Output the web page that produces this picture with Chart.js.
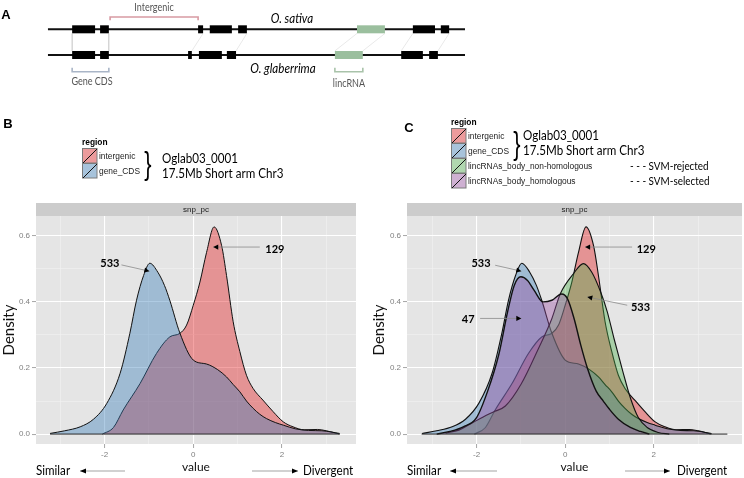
<!DOCTYPE html>
<html><head><meta charset="utf-8">
<script src="https://cdn.jsdelivr.net/npm/chart.js@4.4.1/dist/chart.umd.min.js"></script>
<style>
body{margin:0;background:#fff;width:744px;height:478px;overflow:hidden;position:relative;font-family:"Liberation Sans",Arial,sans-serif;color:#000;}
canvas{position:absolute;}
.t{position:absolute;white-space:nowrap;line-height:1;transform:translate(-50%,-50%);}
.l{position:absolute;white-space:nowrap;line-height:1;transform:translate(0,-50%);transform-origin:left center;}
.n{font-family:Lato,"Liberation Sans",Arial,sans-serif;}
.t.n{transform:translate(-50%,-50%) scaleX(0.86);}
.l.n{transform:translate(0,-50%) scaleX(0.86);}
.br{position:absolute;line-height:1;transform:translate(-50%,-50%) scaleX(0.7);font-family:"Liberation Sans",Arial,sans-serif;}
svg{position:absolute;left:0;top:0;}
</style></head><body>
<canvas id="ca" width="744" height="100" style="left:0px;top:0px"></canvas>
<canvas id="cb" width="370" height="283" style="left:0px;top:195px"></canvas>
<canvas id="cc" width="374" height="283" style="left:370px;top:195px"></canvas>
<svg id="ov" width="744" height="478"></svg>
<div id="txt"></div>
<script>
// ---------------- DATA ----------------
// Panel A: gene models (arbitrary position units along a 0-100 segment)
const chromExtent = [0, 100];
const sativaExons = [[5.8,11.3],[12.5,14.6],[36.0,37.2],[38.8,44.1],[45.6,47.7],[87.5,92.8],[94.2,96.2]];
const sativaLinc = [74.1,80.8];
const glabExons = [[5.8,11.3],[12.5,14.6],[33.6,34.5],[36.2,41.7],[42.9,45.1],[84.7,89.9],[91.4,93.5]];
const glabLinc = [68.8,75.5];
const orthologLinks = [[5.8,5.8],[14.6,14.6],[37.2,34.5],[47.7,45.1],[74.1,68.8],[80.8,75.5],[87.5,84.7],[96.2,93.5]];
const intergenicSpan = [14.9,36.0];
const cdsSpan = [5.8,14.6];
const lincSpan = [68.8,75.5];

// Panels B/C: density of snp_pc values
const regionNames = ['intergenic','gene_CDS','lincRNAs_body_non-homologous','lincRNAs_body_homologous'];
const intergenicX = [-2.05,-1.8,-1.58,-1.2,-0.83,-0.53,-0.3,-0.15,0,0.15,0.3,0.47,0.64,0.75,0.9,1.05,1.2,1.35,1.57,1.8,2.03,2.25,2.5,2.8,3.0,3.3];
const intergenicY = [0,0.02,0.073,0.153,0.244,0.294,0.305,0.33,0.39,0.46,0.55,0.627,0.57,0.48,0.34,0.25,0.178,0.138,0.103,0.068,0.037,0.022,0.013,0.014,0.01,0];
const cdsX = [-3.23,-2.9,-2.55,-2.25,-1.95,-1.65,-1.43,-1.28,-1.12,-0.98,-0.8,-0.65,-0.53,-0.3,0,0.3,0.55,0.75,0.9,1.05,1.2,1.35,1.5,1.65,1.85,2.03,2.3,2.6,2.9,3.3];
const cdsY = [0.002,0.01,0.022,0.045,0.093,0.184,0.305,0.405,0.48,0.517,0.49,0.45,0.405,0.305,0.224,0.212,0.195,0.173,0.15,0.128,0.1,0.078,0.06,0.047,0.035,0.027,0.016,0.011,0.01,0.002];
const nonHomX = [-2.7,-2.4,-2.15,-1.85,-1.62,-1.35,-1.0,-0.6,-0.3,-0.11,0.19,0.41,0.6,0.8,0.95,1.1,1.3,1.47,1.65,1.85,2.1,2.35];
const nonHomY = [0.003,0.012,0.03,0.052,0.067,0.085,0.15,0.26,0.35,0.425,0.486,0.516,0.49,0.43,0.37,0.29,0.19,0.11,0.05,0.02,0.005,0];
const homX = [-2.9,-2.6,-2.3,-2.0,-1.75,-1.5,-1.3,-1.15,-1.0,-0.85,-0.7,-0.5,-0.3,-0.08,0.05,0.2,0.35,0.5,0.7,0.86,1.0,1.2,1.47,1.7,1.9];
const homY = [0,0.008,0.022,0.05,0.13,0.24,0.37,0.45,0.476,0.465,0.435,0.40,0.405,0.424,0.41,0.35,0.27,0.2,0.13,0.1,0.075,0.045,0.02,0.008,0];
const countsB = ['533','129'];
const countsC = ['533','47','129','533'];

// ---------------- STYLE ----------------
const LATO = 'Lato,"Liberation Sans",Arial,sans-serif';
const fills = ['rgba(228,26,28,0.4)','rgba(55,126,184,0.4)','rgba(77,175,74,0.4)','rgba(152,78,163,0.4)'];
Chart.defaults.font.family = '"Liberation Sans",Arial,sans-serif';

// ---------------- PANEL A ----------------
(function(){
  const ds = [];
  const seg = (pts, color, w, order) => ds.push({data:pts, borderColor:color, borderWidth:w, pointRadius:0, fill:false, borderCapStyle:'butt', tension:0, order});
  seg([{x:chromExtent[0],y:1},{x:chromExtent[1],y:1}], '#111', 2, 3);
  seg([{x:chromExtent[0],y:0},{x:chromExtent[1],y:0}], '#111', 2, 3);
  orthologLinks.forEach(([a,b]) => seg([{x:a,y:0.84},{x:b,y:0.16}], 'rgba(0,0,0,0.09)', 1, 4));
  sativaExons.forEach(([a,b]) => seg([{x:a,y:1},{x:b,y:1}], '#000', 8, 1));
  glabExons.forEach(([a,b]) => seg([{x:a,y:0},{x:b,y:0}], '#000', 8, 1));
  seg([{x:sativaLinc[0],y:1},{x:sativaLinc[1],y:1}], '#9BBF9E', 8, 1);
  seg([{x:glabLinc[0],y:0},{x:glabLinc[1],y:0}], '#9BBF9E', 8, 1);
  const bracket = (span, yb, yt, color) => seg([{x:span[0],y:yt},{x:span[0],y:yb},{x:span[1],y:yb},{x:span[1],y:yt}], color, 1.6, 1);
  bracket(intergenicSpan, 1.48, 1.35, '#D89AA3');
  bracket(cdsSpan, -0.65, -0.5, '#A9B5C7');
  bracket(lincSpan, -0.65, -0.5, '#A9C3AA');
  new Chart(document.getElementById('ca'), {
    type:'line', data:{datasets:ds},
    options:{responsive:false, animation:false, layout:{padding:0},
      plugins:{legend:{display:false}, tooltip:{enabled:false}},
      scales:{x:{type:'linear', min:-11.5, max:166.9, display:false}, y:{type:'linear', min:-1.75, max:2.14, display:false}}}
  });
})();

// ---------------- PANELS B, C ----------------
const panelBg = {
  id:'panelBg',
  beforeDraw(chart){
    const {ctx, chartArea:a} = chart;
    ctx.save();
    ctx.fillStyle = '#E5E5E5'; ctx.fillRect(a.left, a.top, a.right-a.left, a.bottom-a.top);
    ctx.fillStyle = '#CCCCCC'; ctx.fillRect(a.left, a.top-13, a.right-a.left, 13);
    ctx.fillStyle = '#1A1A1A'; ctx.font = '8px "Liberation Sans",Arial'; ctx.textAlign='center'; ctx.textBaseline='middle';
    ctx.fillText('snp_pc', (a.left+a.right)/2, a.top-6.5);
    ctx.restore();
  }
};
function annotPlugin(items){
  return {
    id:'annot',
    afterDatasetsDraw(chart){
      const {ctx, scales:{x,y}} = chart;
      ctx.save();
      items.forEach(a => {
        const fx=x.getPixelForValue(a.from[0]), fy=y.getPixelForValue(a.from[1]);
        const tx=x.getPixelForValue(a.to[0]), ty=y.getPixelForValue(a.to[1]);
        ctx.strokeStyle='#8a8a8a'; ctx.lineWidth=0.8;
        ctx.beginPath(); ctx.moveTo(fx,fy); ctx.lineTo(tx,ty); ctx.stroke();
        const ang=Math.atan2(ty-fy,tx-fx), L=5, W=2.6;
        ctx.fillStyle='#000'; ctx.beginPath(); ctx.moveTo(tx,ty);
        ctx.lineTo(tx-L*Math.cos(ang)+W*Math.sin(ang), ty-L*Math.sin(ang)-W*Math.cos(ang));
        ctx.lineTo(tx-L*Math.cos(ang)-W*Math.sin(ang), ty-L*Math.sin(ang)+W*Math.cos(ang));
        ctx.closePath(); ctx.fill();
        ctx.font='bold 11px '+LATO; ctx.textAlign='center'; ctx.textBaseline='middle';
        ctx.fillText(a.label, x.getPixelForValue(a.tx), y.getPixelForValue(a.ty));
      });
      ctx.restore();
    }
  };
}
const majX = c => Math.abs(Math.round(c.tick.value)) % 2 === 0;
const majY = c => Math.abs(Math.round(c.tick.value*10)) % 2 === 0;
function densityChart(id, series, xRange, extent, padRight, yWidth, annots){
  const datasets = series.map(s => ({
    label:s.name, data:s.x.map((x,i)=>({x, y:s.y[i]})),
    borderColor:'#111', borderWidth:s.lw, backgroundColor:s.fill, fill:'origin',
    pointRadius:0, cubicInterpolationMode:'monotone', order:s.order
  }));
  datasets.push({label:'base', data:[{x:extent[0],y:0},{x:extent[1],y:0}], borderColor:'#222', borderWidth:1, pointRadius:0, fill:false, order:0});
  return new Chart(document.getElementById(id), {
    type:'line', data:{datasets},
    options:{responsive:false, animation:false,
      layout:{padding:{top:21, right:padRight, left:0, bottom:0}},
      plugins:{legend:{display:false}, tooltip:{enabled:false}},
      scales:{
        x:{type:'linear', min:xRange[0], max:xRange[1], afterFit(s){ s.height = 34; },
          ticks:{stepSize:1, includeBounds:false, autoSkip:false, maxRotation:0, color:'#7F7F7F', font:{size:8}, padding:2,
            callback:v => (Math.abs(Math.round(v))%2===0 ? String(Math.round(v)) : '')},
          grid:{color:c=>majX(c)?'#FFFFFF':'#F2F2F2', lineWidth:c=>majX(c)?1.1:0.6, tickLength:4,
            tickColor:c=>majX(c)?'#8F8F8F':'rgba(0,0,0,0)', tickWidth:0.8},
          border:{display:false},
          title:{display:true, text:'value', color:'#111', font:{size:12, family:LATO}, padding:{top:0,bottom:4}}},
        y:{type:'linear', min:-0.03, max:0.66, afterFit(s){ s.width = yWidth; },
          ticks:{stepSize:0.1, includeBounds:false, color:'#7F7F7F', font:{size:8}, padding:2,
            callback:v => (Math.abs(Math.round(v*10))%2===0 ? v.toFixed(1) : '')},
          grid:{color:c=>majY(c)?'#FFFFFF':'#F2F2F2', lineWidth:c=>majY(c)?1.1:0.6, tickLength:4,
            tickColor:c=>majY(c)?'#8F8F8F':'rgba(0,0,0,0)', tickWidth:0.8},
          border:{display:false},
          title:{display:true, text:'Density', color:'#111', font:{size:15, family:LATO}, padding:{top:0,bottom:0}}}
      }
    },
    plugins:[panelBg, annotPlugin(annots)]
  });
}
const sInter = {name:regionNames[0], x:intergenicX, y:intergenicY, fill:fills[0]};
const sCds = {name:regionNames[1], x:cdsX, y:cdsY, fill:fills[1]};
const sNon = {name:regionNames[2], x:nonHomX, y:nonHomY, fill:fills[2]};
const sHom = {name:regionNames[3], x:homX, y:homY, fill:fills[3]};

densityChart('cb', [{...sInter, lw:1, order:4}, {...sCds, lw:1, order:3}], [-3.547, 3.67], [-3.23, 3.3], 14, 36, [
  {label:countsB[0], tx:-1.88, ty:0.517, from:[-1.62,0.512], to:[-0.99,0.493]},
  {label:countsB[1], tx:1.84, ty:0.56, from:[1.5,0.566], to:[0.45,0.566]}
]);
densityChart('cc', [{...sInter, lw:1.1, order:4}, {...sCds, lw:1.1, order:3}, {...sNon, lw:1.1, order:2}, {...sHom, lw:1.4, order:1}], [-3.57, 3.99], [-3.24, 3.66], 2, 37, [
  {label:countsC[0], tx:-1.9, ty:0.517, from:[-1.58,0.511], to:[-0.99,0.493]},
  {label:countsC[1], tx:-2.19, ty:0.348, from:[-1.92,0.35], to:[-0.99,0.35]},
  {label:countsC[2], tx:1.83, ty:0.56, from:[1.51,0.566], to:[0.45,0.566]},
  {label:countsC[3], tx:1.7, ty:0.383, from:[1.4,0.39], to:[0.5,0.415]}
]);

// ---------------- TEXT & DECORATIONS ----------------
const txt = document.getElementById('txt');
function addText(s, x, y, cls, style){ const d=document.createElement('div'); d.className=cls; d.textContent=s; d.style.cssText = 'left:'+x+'px;top:'+y+'px;'+(style||''); txt.appendChild(d); }
const ov = document.getElementById('ov');
const NS='http://www.w3.org/2000/svg';
function svgEl(tag, attrs){ const e=document.createElementNS(NS,tag); for(const k in attrs) e.setAttribute(k,attrs[k]); ov.appendChild(e); return e; }
function arrow(x1,x2,y,headAt){ svgEl('line',{x1,y1:y,x2,y2:y,stroke:'#999','stroke-width':0.9});
  const d = headAt===x1 ? 1 : -1; svgEl('polygon',{points:`${headAt},${y} ${headAt+d*6},${y-2.6} ${headAt+d*6},${y+2.6}`,fill:'#000'}); }

// panel letters
addText('A', 6, 14, 't', 'font-weight:bold;font-size:13px');
addText('B', 8, 122.5, 't', 'font-weight:bold;font-size:13px');
addText('C', 409, 126.5, 't', 'font-weight:bold;font-size:13px');
// panel A labels
addText('Intergenic', 154, 7, 't n', 'font-size:10.5px;color:#555');
addText('O. sativa', 292, 19, 't n', 'font-size:13.5px;font-style:italic');
addText('O. glaberrima', 283, 68.5, 't n', 'font-size:13.5px;font-style:italic');
addText('Gene CDS', 92, 80.5, 't n', 'font-size:10.5px;color:#555');
addText('lincRNA', 349, 82.5, 't n', 'font-size:10.5px;color:#555');

// legends
function legend(x, y0, n){
  addText('region', x, y0-6, 'l', 'font-size:8.4px;font-weight:bold');
  for(let i=0;i<n;i++){
    const y = y0 + i*15;
    svgEl('rect',{x:x+0.5,y:y+0.5,width:14.5,height:14.5,fill:'#F2F2F2',stroke:'none'});
    svgEl('rect',{x:x+0.5,y:y+0.5,width:14.5,height:14.5,fill:fills[i],stroke:'#7a7a7a','stroke-width':1});
    svgEl('line',{x1:x+1,y1:y+15,x2:x+15,y2:y+1,stroke:'#111','stroke-width':1});
    addText(regionNames[i], x+17, y+7.8, 'l', 'font-size:8.4px;color:#222');
  }
}
legend(82, 148, 2);
legend(451, 128, 4);
addText('}', 148, 163, 'br', 'font-size:31px');
addText('Oglab03_0001', 162, 159, 'l n', 'font-size:13.5px');
addText('17.5Mb Short arm Chr3', 162, 173.5, 'l n', 'font-size:13.5px');
addText('}', 517, 143, 'br', 'font-size:31px');
addText('Oglab03_0001', 523, 136, 'l n', 'font-size:13.5px');
addText('17.5Mb Short arm Chr3', 523, 151, 'l n', 'font-size:13.5px');
addText('- - - SVM-rejected', 630, 165.5, 'l n', 'font-size:11.5px');
addText('- - - SVM-selected', 630, 181, 'l n', 'font-size:11.5px');

// similar / divergent
addText('Similar', 36, 471, 'l n', 'font-size:13.5px');
arrow(80, 125, 471, 80);
arrow(252, 298, 471, 298);
addText('Divergent', 303, 471, 'l n', 'font-size:13.5px');
addText('Similar', 407, 471, 'l n', 'font-size:13.5px');
arrow(450, 497, 471, 450);
arrow(625, 670, 471, 670);
addText('Divergent', 677, 471, 'l n', 'font-size:13.5px');
</script>
</body></html>
